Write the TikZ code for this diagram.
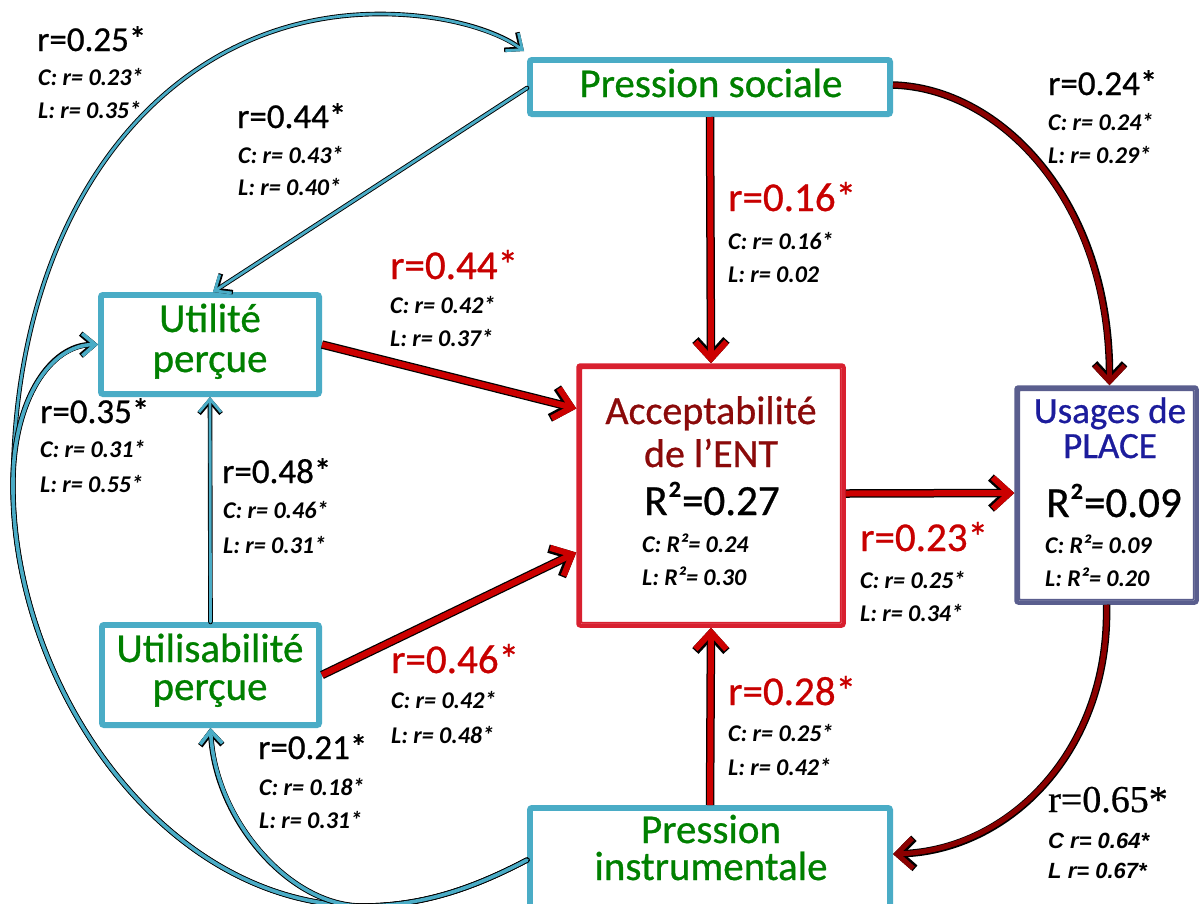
\documentclass[tikz,border=0pt]{standalone}
\usepackage{fontspec}
\setmainfont{Carlito}
\newfontfamily\medf{Carlito}[FakeBold=0.7]
\newfontfamily\timesf{Liberation Serif}[FakeBold=0.6]
\newfontfamily\arialf{Liberation Sans}
\usetikzlibrary{arrows.meta}
\definecolor{cy}{HTML}{4AACC6}
\definecolor{gr}{HTML}{008000}
\definecolor{rd}{HTML}{CC0000}
\definecolor{drd}{HTML}{8B0000}
\definecolor{accred}{HTML}{D8202F}
\definecolor{acctxt}{HTML}{8B0A0A}
\definecolor{slate}{HTML}{5A5E8E}
\definecolor{navy}{HTML}{1C1C9C}
\definecolor{lblred}{HTML}{C80000}
\begin{document}
\begin{tikzpicture}[x=1pt,y=-1pt,
  cybox/.style={draw=cy, line width=5pt, fill=white, rounded corners=2.5pt, inner sep=0pt},
  accbox/.style={draw=accred, line width=4.5pt, fill=white, rounded corners=2pt, inner sep=0pt},
  usbox/.style={draw=slate, line width=4.5pt, fill=white, rounded corners=2pt, inner sep=0pt},
  ttl/.style={anchor=base, inner sep=0pt, text=gr, font=\medf\fontsize{41}{41}\selectfont},
  acct/.style={anchor=base, inner sep=0pt, text=acctxt, font=\medf\fontsize{40}{40}\selectfont},
  ust/.style={anchor=base, inner sep=0pt, text=navy, font=\medf\fontsize{37}{37}\selectfont},
  rsq/.style={anchor=base, inner sep=0pt, text=black, font=\medf\fontsize{43}{43}\selectfont},
  lb/.style={anchor=base west, inner sep=0pt, text=black, font=\medf\fontsize{35}{35}\selectfont},
  lbr/.style={anchor=base west, inner sep=0pt, text=lblred, font=\medf\fontsize{41}{41}\selectfont},
  ls/.style={anchor=base west, inner sep=0pt, text=black, font=\fontsize{24}{24}\selectfont\bfseries\itshape},
  cyarr/.style={draw=cy, line width=2.8pt, line cap=round, -{Straight Barb[length=13pt,width=22pt]},
     preaction={draw=black, line width=4.6pt, line cap=round, -{Straight Barb[length=13pt,width=22pt]}}},
  cyarrb/.style={cyarr, line width=3.6pt, preaction={draw=black, line width=5.4pt, line cap=round, -{Straight Barb[length=13pt,width=22pt]}}},
  rdarr/.style={draw=rd, line width=6pt, -{Straight Barb[length=17pt,width=31pt]},
     preaction={draw=black, line width=8.5pt, -{Straight Barb[length=17pt,width=31pt]}}},
  drarr/.style={draw=drd, line width=5pt, -{Straight Barb[length=16pt,width=30pt]},
     preaction={draw=black, line width=7.5pt, -{Straight Barb[length=16pt,width=30pt]}}},
]
\clip (0,0) rectangle (1201,903);
\fill[white] (0,0) rectangle (1201,903);

% ---------- boxes ----------
\node[cybox, minimum width=361pt, minimum height=55pt] (PS) at (710,87) {};
\node[cybox, minimum width=219pt, minimum height=100pt] (UT) at (210,344.5) {};
\node[cybox, minimum width=218pt, minimum height=101pt] (US) at (210.5,675) {};
\node[accbox, minimum width=265pt, minimum height=260pt] (ACC) at (711,495.5) {};
\node[usbox, minimum width=180pt, minimum height=215pt] (UP) at (1106.5,495) {};
\node[cybox, minimum width=361pt, minimum height=105pt] (PI) at (710,860) {};

\foreach \n/\c in {PS/cy,UT/cy,US/cy,PI/cy,ACC/accred,UP/slate}{
  \draw[\c, line width=1.6pt, rounded corners=1pt]
    ([shift={(5,5)}]\n.north west) rectangle ([shift={(-5,-5)}]\n.south east);
}

% ---------- connectors ----------
\coordinate (J) at (362,906);
\coordinate (K) at (13,480);
% Pression instrumentale -> Pression sociale (outer arc)
\draw[cyarr] (PI.west) .. controls (470,890) and (420,906) .. (J)
   .. controls (160,905) and (10,680) .. (K)
   .. controls (16,200) and (170,14) .. (380,14)
   .. controls (450,14) and (500,33) .. ([shift={(-3,-6)}]PS.north west);
% Pression instrumentale -> Utilite percue
\draw[cyarrb] (PI.west) .. controls (470,890) and (420,906) .. (J)
   .. controls (160,905) and (10,680) .. (K)
   .. controls (14,400) and (50,345) .. (UT.west);
% Pression instrumentale -> Utilisabilite percue
\draw[cyarrb] (PI.west) .. controls (470,890) and (420,906) .. (J)
   .. controls (290,906) and (215,820) .. (US.south);
% Pression sociale -> Utilite percue
\draw[cyarr] ([yshift=-1pt]PS.west) -- ([xshift=3pt]UT.north);
% Utilisabilite -> Utilite
\draw[cyarr] (US.north) -- (UT.south);

% red arrows to Acceptabilite
\draw[rdarr] (UT.east) -- ([yshift=87pt]ACC.west);
\draw[rdarr] (US.east) -- ([yshift=-57pt]ACC.west);
\draw[rdarr] (PS.south) -- (ACC.north);
\draw[rdarr] (PI.north) -- (ACC.south);
\draw[rdarr] ([yshift=2pt]ACC.east) -- ([yshift=2pt]UP.west);
% dark red curves
\draw[drarr] ([yshift=2pt]PS.east) .. controls (1000,88) and (1110,200) .. ([xshift=3pt]UP.north);
\draw[drarr] (UP.south) .. controls (1110,750) and (1010,850) .. ([yshift=6pt]PI.east);

% ---------- box texts ----------
\node[ttl] (tPS) at (711,97) {Pression sociale};
\node[ttl] (tUT1) at (210,332) {Utilité};
\node[ttl] (tUT2) at (210,372) {perçue};
\node[ttl] (tUS1) at (210,662) {Utilisabilité};
\node[ttl] (tUS2) at (210,700) {perçue};
\node[ttl] (tPI1) at (711,843) {Pression};
\node[ttl] (tPI2) at (711,880) {instrumentale};
\node[acct] (tA1) at (711,424) {Acceptabilité};
\node[acct] (tA2) at (711,467) {de l’ENT};
\node[rsq] (tA3) at (712,515) {R²=0.27};
\node[ls] (tA4) at (642,552) {C: R²= 0.24};
\node[ls] (tA5) at (642,585) {L: R²= 0.30};
\node[ust] (tU1) at (1110,423) {Usages de};
\node[ust] (tU2) at (1110,458) {PLACE};
\node[rsq] (tU3) at (1114,517) {R²=0.09};
\node[ls] (tU4) at (1045,553) {C: R²= 0.09};
\node[ls] (tU5) at (1045,586) {L: R²= 0.20};

% ---------- labels ----------
\node[lb] (a1) at (37,51) {r=0.25*};
\node[ls] (a2) at (38,85) {C: r= 0.23*};
\node[ls] (a3) at (38,118) {L: r= 0.35*};

\node[lb] (b1) at (237,128) {r=0.44*};
\node[ls] (b2) at (238,163) {C: r= 0.43*};
\node[ls] (b3) at (238,195) {L: r= 0.40*};

\node[lbr] (c1) at (390,279) {r=0.44*};
\node[ls] (c2) at (390,313) {C: r= 0.42*};
\node[ls] (c3) at (390,346) {L: r= 0.37*};

\node[lbr] (d1) at (728,211) {r=0.16*};
\node[ls] (d2) at (728,249) {C: r= 0.16*};
\node[ls] (d3) at (728,282) {L: r= 0.02};

\node[lb] (e1) at (1048,95) {r=0.24*};
\node[ls] (e2) at (1048,130) {C: r= 0.24*};
\node[ls] (e3) at (1048,163) {L: r= 0.29*};

\node[lb] (f1) at (40,423) {r=0.35*};
\node[ls] (f2) at (40,457) {C: r= 0.31*};
\node[ls] (f3) at (40,492) {L: r= 0.55*};

\node[lb] (g1) at (222,483) {r=0.48*};
\node[ls] (g2) at (223,518) {C: r= 0.46*};
\node[ls] (g3) at (223,553) {L: r= 0.31*};

\node[lbr] (h1) at (860,551) {r=0.23*};
\node[ls] (h2) at (860,588) {C: r= 0.25*};
\node[ls] (h3) at (860,621) {L: r= 0.34*};

\node[lbr] (i1) at (391,673) {r=0.46*};
\node[ls] (i2) at (391,708) {C: r= 0.42*};
\node[ls] (i3) at (391,743) {L: r= 0.48*};

\node[lbr] (k1) at (728,705) {r=0.28*};
\node[ls] (k2) at (728,741) {C: r= 0.25*};
\node[ls] (k3) at (728,775) {L: r= 0.42*};

\node[lb] (m1) at (258,759) {r=0.21*};
\node[ls] (m2) at (259,795) {C: r= 0.18*};
\node[ls] (m3) at (259,828) {L: r= 0.31*};

\node[lb, font=\timesf\fontsize{38}{38}\selectfont] (n1) at (1048,812) {r=0.65*};
\node[ls, font=\arialf\fontsize{22}{22}\selectfont\bfseries\itshape] (n2) at (1048,848) {C r= 0.64*};
\node[ls, font=\arialf\fontsize{22}{22}\selectfont\bfseries\itshape] (n3) at (1048,878) {L r= 0.67*};
\end{tikzpicture}
\end{document}
